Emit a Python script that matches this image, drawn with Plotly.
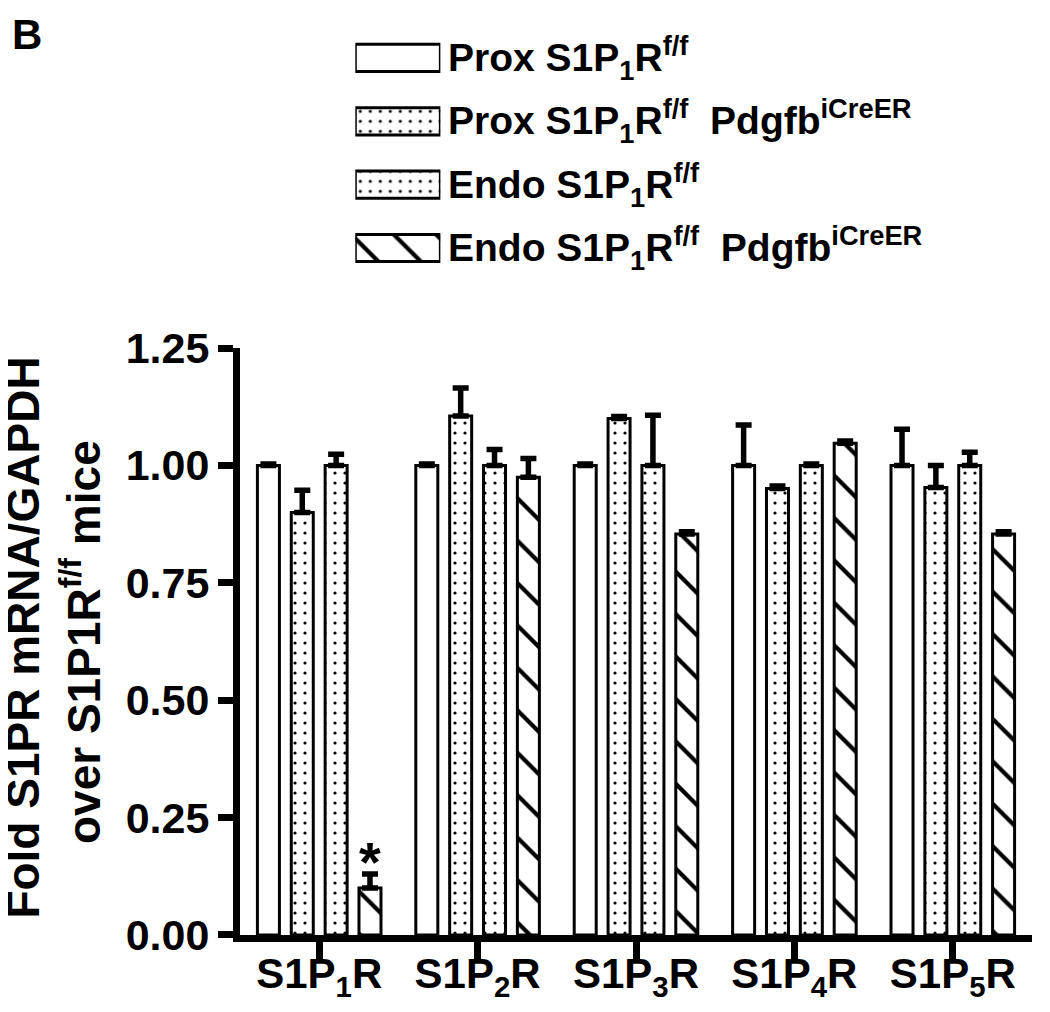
import plotly.graph_objects as go

# ---------------- data ----------------
receptors = ["S1P<sub>1</sub>R", "S1P<sub>2</sub>R", "S1P<sub>3</sub>R", "S1P<sub>4</sub>R", "S1P<sub>5</sub>R"]
series_names = [
    "Prox S1P<sub>1</sub>R<sup>f/f</sup>",
    "Prox S1P<sub>1</sub>R<sup>f/f</sup>  Pdgfb<sup>iCreER</sup>",
    "Endo S1P<sub>1</sub>R<sup>f/f</sup>",
    "Endo S1P<sub>1</sub>R<sup>f/f</sup>  Pdgfb<sup>iCreER</sup>",
]
prox_ff = [1.00, 1.00, 1.00, 1.00, 1.00]
prox_ff_err = [0.003, 0.003, 0.003, 0.086, 0.077]
prox_cre = [0.90, 1.105, 1.10, 0.951, 0.953]
prox_cre_err = [0.047, 0.060, 0.004, 0.005, 0.047]
endo_ff = [1.00, 1.00, 1.00, 1.00, 1.00]
endo_ff_err = [0.024, 0.034, 0.107, 0.003, 0.028]
endo_cre = [0.10, 0.975, 0.854, 1.047, 0.854]
endo_cre_err = [0.030, 0.040, 0.005, 0.005, 0.005]
yticks = [0, 0.25, 0.5, 0.75, 1.0, 1.25]

values = [prox_ff, prox_cre, endo_ff, endo_cre]
errors = [prox_ff_err, prox_cre_err, endo_ff_err, endo_cre_err]
patterns = ["", ".", ".", "\\"]
pat_size = [8, 10, 10, 30]
pat_sol = [0.1, 0.08, 0.08, 0.14]

FONT = "Liberation Sans, Arial, sans-serif"
xpos = list(range(len(receptors)))

fig = go.Figure()
for vals, errs, shp, ps, sol, nm in zip(values, errors, patterns, pat_size, pat_sol, series_names):
    fig.add_trace(go.Bar(
        x=xpos, y=vals, name=nm, showlegend=False,
        marker=dict(color="white", line=dict(color="black", width=3),
                    pattern=dict(shape=shp, fgcolor="black", bgcolor="white", fgopacity=1,
                                 size=ps, solidity=sol, fillmode="overlay")),
        error_y=dict(type="data", symmetric=False, array=errs,
                     arrayminus=[0] * len(errs), color="black", thickness=5.5, width=8),
        xaxis="x", yaxis="y",
    ))

# legend swatches (own small axes)
leg_idx = list(range(len(series_names)))
fig.add_trace(go.Bar(
    orientation="h", x=[1] * len(series_names), y=leg_idx, width=0.43,
    showlegend=False, hoverinfo="skip",
    marker=dict(color="white", line=dict(color="black", width=3),
                pattern=dict(shape=patterns, fgcolor="black", bgcolor="white", fgopacity=1,
                             size=pat_size, solidity=pat_sol, fillmode="overlay")),
    xaxis="x2", yaxis="y2",
))
for i, nm in enumerate(series_names):
    fig.add_annotation(x=1, y=i, xref="x2", yref="y2", text=nm, showarrow=False,
                       xanchor="left", yanchor="middle", xshift=6,
                       font=dict(family=FONT, size=39, color="black", weight="bold"))

# significance asterisk over Endo S1P1R f/f Pdgfb iCreER, S1P1R
bargap = 0.145
slot = (1 - bargap) / 4
ast_x = xpos[0] - (1 - bargap) / 2 + 3.5 * slot
fig.add_annotation(x=ast_x, y=endo_cre[0] + endo_cre_err[0], xref="x", yref="y", text="*",
                   showarrow=False, xanchor="center", yanchor="middle", yshift=12,
                   font=dict(family=FONT, size=56, color="black", weight="bold"))

# y-axis title (two lines)
fig.add_annotation(x=-0.274, y=0.325, xref="paper", yref="paper",
                   text="Fold S1PR mRNA/GAPDH", textangle=-90, showarrow=False,
                   xanchor="center", yanchor="middle",
                   font=dict(family=FONT, size=46, color="black", weight="bold"))
fig.add_annotation(x=-0.201, y=0.32, xref="paper", yref="paper",
                   text="over S1P1R<sup>f/f</sup> mice", textangle=-90, showarrow=False,
                   xanchor="center", yanchor="middle",
                   font=dict(family=FONT, size=46, color="black", weight="bold"))
# panel letter
fig.add_annotation(x=-0.29, y=1.012, xref="paper", yref="paper", text="B", showarrow=False,
                   xanchor="left", yanchor="top",
                   font=dict(family=FONT, size=42, color="black", weight="bold"))

fig.update_layout(
    template="none",
    width=1050, height=1012,
    margin=dict(l=232, r=26, t=12, b=85, autoexpand=False),
    paper_bgcolor="white", plot_bgcolor="white",
    barmode="group", bargap=bargap, bargroupgap=0.35,
    showlegend=False,
    font=dict(family=FONT, color="black"),
    xaxis=dict(domain=[0, 1], range=[-0.5, 4.5], tickvals=xpos, ticktext=receptors,
               showline=True, linecolor="black", linewidth=7, ticks="outside",
               ticklen=18, tickwidth=7, tickcolor="black", showgrid=False, zeroline=False,
               automargin=False, ticklabelstandoff=-22,
               tickfont=dict(family=FONT, size=42, color="black", weight="bold"),
               fixedrange=True),
    yaxis=dict(domain=[0, 0.6415], range=[0, 1.25], tickvals=yticks, tickformat=".2f",
               showline=True, linecolor="black", linewidth=7, ticks="outside",
               ticklen=15, tickwidth=7, tickcolor="black", showgrid=False, zeroline=False,
               automargin=False,
               tickfont=dict(family=FONT, size=43, color="black", weight="bold"),
               fixedrange=True),
    xaxis2=dict(domain=[0.1456, 0.253], range=[0, 1], visible=False, anchor="y2",
                automargin=False, fixedrange=True),
    yaxis2=dict(domain=[0.7162, 0.9931], range=[3.5, -0.5], visible=False, anchor="x2",
                automargin=False, fixedrange=True),
)

fig.write_html("out.html")
